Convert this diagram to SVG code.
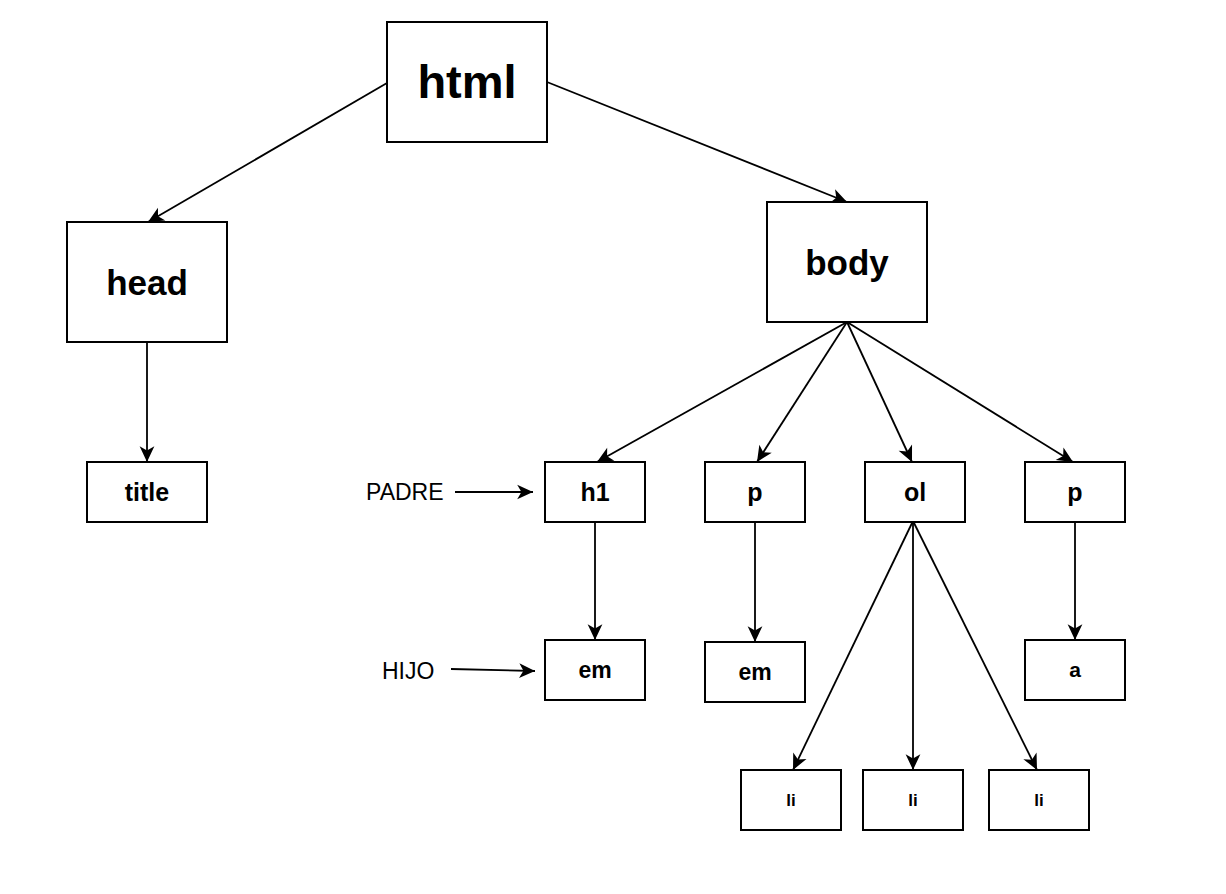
<svg xmlns="http://www.w3.org/2000/svg" width="1226" height="894" viewBox="0 0 1226 894">
<defs>
<marker id="arr" markerUnits="userSpaceOnUse" markerWidth="20" markerHeight="20" viewBox="-17 -9 19 18" refX="0" refY="0" orient="auto">
<path d="M0,0 L-15,-7 L-11,0 L-15,7 Z" fill="#000"/>
</marker>
<style>
.box{fill:#fff;stroke:#000;stroke-width:2}
.t{font-family:"Liberation Sans",Arial,Helvetica,sans-serif;font-weight:bold;text-anchor:middle;fill:#000}
.lbl{font-family:"Liberation Sans",Arial,Helvetica,sans-serif;font-size:23px;fill:#000}
.e{stroke:#000;stroke-width:1.8;fill:none;marker-end:url(#arr)}
</style>
</defs>
<rect width="1226" height="894" fill="#fff"/>
<g id="connectors">
<line class="e" x1="387" y1="83" x2="148" y2="222"/>
<line class="e" x1="547" y1="82" x2="847" y2="202"/>
<line class="e" x1="147" y1="342" x2="147" y2="462"/>
<line class="e" x1="847" y1="322" x2="597" y2="462"/>
<line class="e" x1="847" y1="322" x2="757" y2="462"/>
<line class="e" x1="847" y1="322" x2="912" y2="462"/>
<line class="e" x1="847" y1="322" x2="1073" y2="462"/>
<line class="e" x1="595" y1="522" x2="595" y2="640"/>
<line class="e" x1="755" y1="522" x2="755" y2="642"/>
<line class="e" x1="913" y1="521" x2="793" y2="770"/>
<line class="e" x1="913" y1="521" x2="913" y2="770"/>
<line class="e" x1="913" y1="521" x2="1037" y2="770"/>
<line class="e" x1="1075" y1="522" x2="1075" y2="640"/>
<line class="e" x1="455" y1="492" x2="533" y2="492"/>
<line class="e" x1="451" y1="669" x2="535" y2="671"/>
</g>
<g id="html"><rect class="box" x="387" y="22" width="160" height="120"/><text class="t" x="467" y="98" font-size="47">html</text></g>
<g id="head"><rect class="box" x="67" y="222" width="160" height="120"/><text class="t" x="147" y="295" font-size="35">head</text></g>
<g id="body"><rect class="box" x="767" y="202" width="160" height="120"/><text class="t" x="847" y="275" font-size="35">body</text></g>
<g id="title"><rect class="box" x="87" y="462" width="120" height="60"/><text class="t" x="147" y="501" font-size="25">title</text></g>
<g id="h1"><rect class="box" x="545" y="462" width="100" height="60"/><text class="t" x="595" y="501" font-size="25">h1</text></g>
<g id="p1"><rect class="box" x="705" y="462" width="100" height="60"/><text class="t" x="755" y="501" font-size="25">p</text></g>
<g id="ol"><rect class="box" x="865" y="462" width="100" height="60"/><text class="t" x="915" y="501" font-size="25">ol</text></g>
<g id="p2"><rect class="box" x="1025" y="462" width="100" height="60"/><text class="t" x="1075" y="501" font-size="25">p</text></g>
<g id="em1"><rect class="box" x="545" y="640" width="100" height="60"/><text class="t" x="595" y="678" font-size="23">em</text></g>
<g id="em2"><rect class="box" x="705" y="642" width="100" height="60"/><text class="t" x="755" y="680" font-size="23">em</text></g>
<g id="a"><rect class="box" x="1025" y="640" width="100" height="60"/><text class="t" x="1075" y="677" font-size="21">a</text></g>
<g id="li1"><rect class="box" x="741" y="770" width="100" height="60"/><text class="t" x="791" y="806" font-size="17">li</text></g>
<g id="li2"><rect class="box" x="863" y="770" width="100" height="60"/><text class="t" x="913" y="806" font-size="17">li</text></g>
<g id="li3"><rect class="box" x="989" y="770" width="100" height="60"/><text class="t" x="1039" y="806" font-size="17">li</text></g>
<g id="padre"><text class="lbl" x="366" y="500">PADRE</text></g>
<g id="hijo"><text class="lbl" x="382" y="679">HIJO</text></g>
</svg>
